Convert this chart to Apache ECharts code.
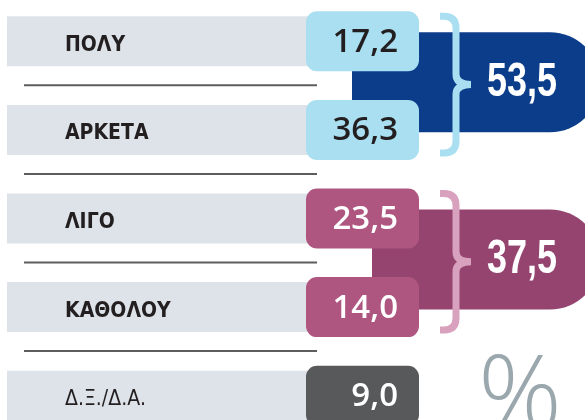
<!DOCTYPE html>
<html>
<head>
<meta charset="utf-8" />
<title>ΠΟΛΥ / ΑΡΚΕΤΑ / ΛΙΓΟ / ΚΑΘΟΛΟΥ</title>
<script src="https://cdn.jsdelivr.net/npm/echarts@6/dist/echarts.min.js"></script>
<style>
  html, body { margin: 0; padding: 0; background: #fff; }
  #chartmain { width: 585px; height: 420px; }
</style>
</head>
<body>
<div id="chartmain"></div>
<script type="text/javascript">
  // data
  var categories = ['ΠΟΛΥ', 'ΑΡΚΕΤΑ', 'ΛΙΓΟ', 'ΚΑΘΟΛΟΥ', 'Δ.Ξ./Δ.Α.'];
  var values = [17.2, 36.3, 23.5, 14.0, 9.0];
  var rowGroup = [0, 0, 1, 1, 2];
  var groupRows = [[0, 1], [2, 3]];
  var groupTotals = [53.5, 37.5];

  // colours
  var bandColor = '#dde3e9';
  var boxColors = ['#a9dff1', '#ae5680', '#58595b'];
  var boxTextColors = ['#231f20', '#ffffff', '#ffffff'];
  var connectorColors = ['#0b3d8b', '#954470'];
  var braceColors = ['#a9dff1', '#d8a1bd'];
  var connectorLeft = [352, 372];

  var labelFont = "'DejaVu Sans Condensed', sans-serif";
  var numFont = "'Open Sans', 'Noto Sans', sans-serif";
  var totalFont = "'Liberation Sans', Arial, sans-serif";

  function fmt(v) {
    return v.toFixed(1).replace('.', ',');
  }

  var myChart = echarts.init(document.getElementById('chartmain'));

  var rowData = values.map(function (v, i) { return [v, i]; });
  var groupData = groupTotals.map(function (t, g) { return [t, groupRows[g][0], groupRows[g][1]]; });

  // gray bands, separators and row names
  function renderRow(params, api) {
    var i = api.value(1);
    var cs = params.coordSys;
    var yc = api.coord([0, i])[1];
    var kids = [{
      type: 'rect',
      shape: { x: cs.x + 7, y: yc - 25, width: 310, height: 50 },
      style: { fill: bandColor }
    }];
    if (i < categories.length - 1) {
      kids.push({
        type: 'line',
        shape: { x1: cs.x + 24, y1: yc + 44, x2: cs.x + 317, y2: yc + 44 },
        style: { stroke: '#5d5d5d', lineWidth: 2 }
      });
    }
    kids.push({
      type: 'text',
      style: {
        text: categories[i],
        x: cs.x + 65, y: yc + 4,
        fill: '#231f20',
        font: (i < categories.length - 1 ? 'bold ' : '') + '21px ' + labelFont,
        align: 'left', verticalAlign: 'middle'
      }
    });
    return { type: 'group', children: kids };
  }

  // rounded value boxes
  function renderBox(params, api) {
    var i = api.value(1);
    var cs = params.coordSys;
    var yc = api.coord([0, i])[1];
    var g = rowGroup[i];
    return {
      type: 'group',
      children: [{
        type: 'rect',
        shape: { x: cs.x + 306, y: yc - 30, width: 113, height: 60, r: 11 },
        style: { fill: boxColors[g] }
      }, {
        type: 'text',
        style: {
          text: fmt(api.value(0)),
          x: cs.x + 398, y: yc + 1,
          fill: boxTextColors[g],
          font: '600 33px ' + numFont,
          align: 'right', verticalAlign: 'middle'
        }
      }]
    };
  }

  // big pill with the group total
  function renderGroup(params, api) {
    var g = params.dataIndex;
    var cs = params.coordSys;
    var y0 = api.coord([0, api.value(1)])[1];
    var top = y0 - 9;
    var x = cs.x + connectorLeft[g];
    return {
      type: 'group',
      children: [{
        type: 'rect',
        shape: { x: x, y: top, width: 600 - x, height: 100, r: [0, 50, 50, 0] },
        style: { fill: connectorColors[g] }
      }, {
        type: 'text',
        x: cs.x + 522, y: top + 50,
        scaleX: 0.75,
        style: {
          text: fmt(api.value(0)),
          x: 0, y: 0,
          fill: '#ffffff',
          font: 'bold 48px ' + totalFont,
          align: 'center', verticalAlign: 'middle'
        }
      }]
    };
  }

  // curly brace
  function renderBrace(params, api) {
    var g = params.dataIndex;
    var cs = params.coordSys;
    var top = api.coord([0, api.value(1)])[1] - 25;
    var bot = api.coord([0, api.value(2)])[1] + 23;
    var mid = (top + bot) / 2;
    var x0 = cs.x + 440, xm = cs.x + 456, xt = cs.x + 471;
    var d = 'M' + x0 + ',' + top +
      ' L' + (x0 + 4) + ',' + top +
      ' Q' + xm + ',' + top + ' ' + xm + ',' + (top + 12) +
      ' L' + xm + ',' + (mid - 10) +
      ' Q' + xm + ',' + mid + ' ' + xt + ',' + mid +
      ' Q' + xm + ',' + mid + ' ' + xm + ',' + (mid + 10) +
      ' L' + xm + ',' + (bot - 12) +
      ' Q' + xm + ',' + bot + ' ' + (x0 + 4) + ',' + bot +
      ' L' + x0 + ',' + bot;
    return {
      type: 'path',
      shape: { pathData: d },
      style: { fill: 'none', stroke: braceColors[g], lineWidth: 7 }
    };
  }

  var option = {
    backgroundColor: '#ffffff',
    animation: false,
    title: {
      text: '%',
      left: 473, top: 342,
      textStyle: { fontFamily: numFont, fontWeight: 300, fontSize: 104, color: '#9aa8ae' }
    },
    grid: { left: 0, right: 0, top: -3, height: 443, outerBoundsMode: 'none' },
    xAxis: { type: 'value', min: 0, max: 100, show: false },
    yAxis: { type: 'category', data: categories, inverse: true, show: false },
    series: [
      { type: 'custom', z: 1, renderItem: renderRow, data: rowData, encode: { x: 0, y: 1 } },
      { type: 'custom', z: 2, renderItem: renderGroup, data: groupData, encode: { x: 0, y: 1 } },
      { type: 'custom', z: 3, renderItem: renderBox, data: rowData, encode: { x: 0, y: 1 } },
      { type: 'custom', z: 4, renderItem: renderBrace, data: groupData, encode: { x: 0, y: 1 } }
    ]
  };
  myChart.setOption(option);
</script>
</body>
</html>
